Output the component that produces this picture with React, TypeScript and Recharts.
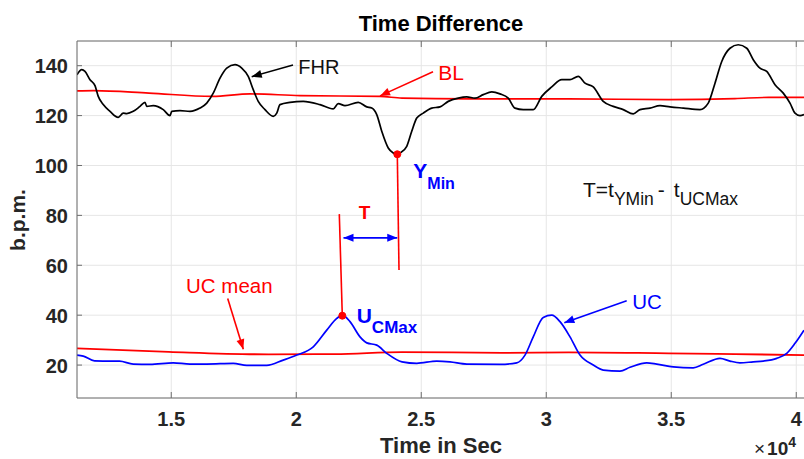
import React from 'react'
import {
  LineChart, Line, XAxis, YAxis, CartesianGrid,
  ReferenceLine, ReferenceDot,
} from 'recharts'

// FHR trace (time in sec, b.p.m.)
const fhrT = [11230, 11420, 11550, 11750, 11950, 12080, 12280, 12550, 12880, 13080, 13220, 13480, 13750, 13950, 14020, 14280, 14680, 14950, 15020, 15350, 15750, 16150, 16420, 16680, 16950, 17220, 17550, 17820, 18080, 18280, 18480, 18750, 19080, 19220, 19350, 19750, 20280, 20950, 21480, 21680, 21950, 22480, 22820, 23020, 23220, 23420, 23680, 23880, 24042, 24150, 24420, 24620, 24820, 25080, 25420, 25750, 26080, 26480, 26820, 27150, 27480, 27820, 28150, 28480, 28750, 29080, 29480, 29820, 30220, 30620, 30950, 31280, 31550, 31880, 32280, 32680, 33080, 33480, 33750, 34150, 34550, 34950, 35480, 36150, 36480, 36750, 37020, 37350, 37680, 38020, 38280, 38550, 38820, 39150, 39480, 39750, 39950, 40150, 40310]
const fhrV = [136.4, 138.4, 137.7, 134.4, 132, 127.7, 124.4, 121.7, 119.3, 121, 120.8, 121.7, 123.7, 125.3, 123.7, 124, 122.4, 120, 121.7, 122, 121.7, 123, 125, 129, 135, 139, 140.4, 139, 135.7, 130.4, 125.7, 122.4, 119.7, 121, 124.4, 125.3, 125.7, 124.4, 122.7, 124.8, 124, 125.3, 123.5, 123, 120.4, 113.7, 107, 105, 104.5, 105, 107.7, 113.7, 119, 121, 123, 123.5, 125.7, 127, 127.5, 127, 128.4, 129.5, 128.7, 127, 123, 122.4, 122.4, 127.7, 131.5, 134.4, 134.4, 135.7, 133, 131.5, 125.7, 123.7, 122.4, 120.7, 122.4, 123, 124, 123.5, 123, 122.4, 125, 133, 141.7, 147, 148.4, 147, 142.4, 139, 137.7, 132.4, 129, 125, 121, 120, 120.4]

// baseline (BL)
const blT = [11230, 11900, 14110, 16650, 18150, 20150, 23350, 24230, 26900, 30900, 34900, 37550, 38900, 40310]
const blV = [129.9, 130, 129, 127.7, 128.7, 128, 127.7, 127, 126.7, 126.7, 126.4, 126.8, 127.3, 127.3]

// uterine contractions (UC)
const ucT = [11230, 11480, 11930, 12600, 12930, 13480, 14150, 15080, 15750, 16420, 17480, 18020, 18820, 19480, 20020, 20680, 21220, 21620, 21842, 22150, 22550, 22820, 23220, 23620, 24230, 24820, 25620, 26150, 26820, 28150, 28820, 29150, 29480, 29880, 30220, 30550, 30950, 31350, 31880, 32280, 32950, 33350, 34020, 34420, 35080, 35880, 36280, 36950, 37350, 37750, 38280, 38680, 39220, 39620, 39950, 40310]
const ucV = [24, 23.6, 21.7, 21.6, 21.6, 20.4, 20.3, 20.9, 20.4, 20.4, 20.7, 19.9, 19.9, 22, 24, 27.3, 34, 38.7, 40, 37.4, 31.3, 28.9, 28, 24.7, 21.3, 20.7, 21.6, 21.3, 20.4, 20.3, 20.9, 24, 31.3, 39.1, 40, 37.4, 31.3, 24, 20, 18, 17.6, 19.1, 20.9, 20.4, 19.3, 18.9, 20.3, 22.7, 21.6, 20.9, 21.3, 21.6, 22.7, 24.7, 28.7, 34]

// UC mean
const meanT = [11230, 14900, 18900, 21550, 24230, 28230, 30900, 34900, 37550, 40310]
const meanV = [26.7, 25.3, 24.3, 24.4, 25.2, 24.9, 25.1, 24.7, 24.4, 24]

const xTicks = [15000, 20000, 25000, 30000, 35000, 40000]
const yTicks = [20, 40, 60, 80, 100, 120, 140]

// event points
const ucMax = { t: 21842, v: 39.8 }
const yMin = { t: 24042, v: 104.5 }

const pairs = (t: number[], v: number[]) => t.map((x, i) => ({ t: x, v: v[i] }))
const fhrData = pairs(fhrT, fhrV)
const blData = pairs(blT, blV)
const ucData = pairs(ucT, ucV)
const meanData = pairs(meanT, meanV)

const RED = '#ff0000'
const BLUE = '#0000ff'
const AXIS = '#6e6e6e'
const GRID = '#e6e6e6'
const TXT = '#262626'
const FONT = '"Liberation Sans", Arial, Helvetica, sans-serif'

function head(x1: number, y1: number, x2: number, y2: number, len = 10, w = 4) {
  const a = Math.atan2(y2 - y1, x2 - x1)
  const bx = x2 - len * Math.cos(a)
  const by = y2 - len * Math.sin(a)
  const px = -Math.sin(a) * w
  const py = Math.cos(a) * w
  return `${x2},${y2} ${bx + px},${by + py} ${bx - px},${by - py}`
}

const arrow = (color: string, both = false) => (p: any) => {
  const { x1, y1, x2, y2 } = p
  return (
    <g>
      <line x1={x1} y1={y1} x2={x2} y2={y2} stroke={color} strokeWidth={1.6} />
      <polygon points={head(x1, y1, x2, y2)} fill={color} />
      {both && <polygon points={head(x2, y2, x1, y1)} fill={color} />}
    </g>
  )
}

const plain = (color: string) => (p: any) => (
  <line x1={p.x1} y1={p.y1} x2={p.x2} y2={p.y2} stroke={color} strokeWidth={1.6} />
)

const label = (txt: string, color: string, size: number, weight = 400, anchor = 'start') => (p: any) => (
  <text x={p.cx} y={p.cy} fill={color} fontSize={size} fontWeight={weight} fontFamily={FONT} textAnchor={anchor}>{txt}</text>
)

const XTick = (p: any) => (
  <g>
    <line x1={p.x} y1={p.y} x2={p.x} y2={p.y - 6} stroke={AXIS} />
    <text x={p.x} y={p.y + 28} textAnchor="middle" fill={TXT} fontSize={20} fontWeight={700} fontFamily={FONT}>
      {p.payload.value / 10000}
    </text>
  </g>
)

const TopTick = (p: any) => (
  <line x1={p.x} y1={p.y} x2={p.x} y2={p.y + 6} stroke={AXIS} />
)

const YTick = (p: any) => (
  <g>
    <line x1={p.x} y1={p.y} x2={p.x + 5} y2={p.y} stroke={AXIS} />
    <text x={p.x - 9} y={p.y + 7.5} textAnchor="end" fill={TXT} fontSize={20} fontWeight={700} fontFamily={FONT}>
      {p.payload.value}
    </text>
  </g>
)

export default function App() {
  return (
    <div style={{ position: 'absolute', left: 0, top: 0, width: 804, height: 459, overflow: 'hidden', background: '#fff' }}>
      <LineChart width={830} height={459} margin={{ top: 40, right: 24, left: 76, bottom: 60 }}>
        <CartesianGrid stroke={GRID} />
        <XAxis
          dataKey="t" type="number" domain={[11230, 40390]} ticks={xTicks}
          allowDataOverflow height={1} stroke={AXIS}
          tickLine={false} tickSize={0} tickMargin={0} tick={<XTick />}
        />
        <XAxis
          xAxisId="top" orientation="top" dataKey="t" type="number" domain={[11230, 40390]} ticks={xTicks}
          allowDataOverflow height={1} stroke={AXIS}
          tickLine={false} tickSize={0} tickMargin={0} tick={<TopTick />}
        />
        <YAxis
          type="number" domain={[6.8, 149.9]} ticks={yTicks} allowDataOverflow width={1} stroke={AXIS}
          tickLine={false} tickSize={0} tickMargin={0} tick={<YTick />}
        />

        <Line data={blData} dataKey="v" type="monotone" stroke={RED} strokeWidth={1.6} dot={false} isAnimationActive={false} />
        <Line data={meanData} dataKey="v" type="monotone" stroke={RED} strokeWidth={1.8} dot={false} isAnimationActive={false} />
        <Line data={fhrData} dataKey="v" type="monotone" stroke="#000" strokeWidth={1.7} dot={false} isAnimationActive={false} />
        <Line data={ucData} dataKey="v" type="monotone" stroke={BLUE} strokeWidth={1.7} dot={false} isAnimationActive={false} />

        {/* T = tYMin - tUCMax markers */}
        <ReferenceLine segment={[{ x: 21722, y: 80.5 }, { x: ucMax.t, y: ucMax.v }]} shape={plain(RED)} ifOverflow="visible" />
        <ReferenceLine segment={[{ x: yMin.t, y: yMin.v }, { x: 24110, y: 58.1 }]} shape={plain(RED)} ifOverflow="visible" />
        <ReferenceLine segment={[{ x: 21890, y: 71 }, { x: 24040, y: 71 }]} shape={arrow(BLUE, true)} ifOverflow="visible" />
        <ReferenceDot x={ucMax.t} y={ucMax.v} r={3.5} fill={RED} stroke={RED} ifOverflow="visible" />
        <ReferenceDot x={yMin.t} y={yMin.v} r={3.5} fill={RED} stroke={RED} ifOverflow="visible" />

        {/* pointer arrows */}
        <ReferenceLine segment={[{ x: 19870, y: 140.3 }, { x: 18218, y: 135.6 }]} shape={arrow('#000')} ifOverflow="visible" />
        <ReferenceLine segment={[{ x: 25470, y: 137.6 }, { x: 23350, y: 127.9 }]} shape={arrow(RED)} ifOverflow="visible" />
        <ReferenceLine segment={[{ x: 17258, y: 46.7 }, { x: 17882, y: 26.3 }]} shape={arrow(RED)} ifOverflow="visible" />
        <ReferenceLine segment={[{ x: 33218, y: 45.8 }, { x: 30722, y: 37 }]} shape={arrow(BLUE)} ifOverflow="visible" />

        {/* labels */}
        <ReferenceDot x={20082} y={136.6} r={0} ifOverflow="visible" shape={label('FHR', '#111', 20)} />
        <ReferenceDot x={25682} y={134.3} r={0} ifOverflow="visible" shape={label('BL', RED, 21)} />
        <ReferenceDot x={15590} y={48.7} r={0} ifOverflow="visible" shape={label('UC mean', RED, 20.5)} />
        <ReferenceDot x={33442} y={42.5} r={0} ifOverflow="visible" shape={label('UC', BLUE, 20.5)} />
        <ReferenceDot x={22730} y={78.4} r={0} ifOverflow="visible" shape={label('T', RED, 19, 700, 'middle')} />
        <ReferenceDot
          x={24682} y={94.9} r={0} ifOverflow="visible"
          shape={(p: any) => (
            <text x={p.cx} y={p.cy} fill={BLUE} fontWeight={700} fontFamily={FONT} fontSize={21}>
              Y<tspan fontSize={16} dy={11}>Min</tspan>
            </text>
          )}
        />
        <ReferenceDot
          x={22418} y={37} r={0} ifOverflow="visible"
          shape={(p: any) => (
            <text x={p.cx} y={p.cy} fill={BLUE} fontWeight={700} fontFamily={FONT} fontSize={21}>
              U<tspan fontSize={17} dy={10}>CMax</tspan>
            </text>
          )}
        />
        <ReferenceDot
          x={31470} y={87.5} r={0} ifOverflow="visible"
          shape={(p: any) => (
            <text x={p.cx} y={p.cy} fill="#111" fontFamily={FONT} fontSize={21}>
              T=t<tspan fontSize={17.5} dy={8}>YMin</tspan>
              <tspan dy={-8} dx={4}>-</tspan>
              <tspan dx={9}>t</tspan>
              <tspan fontSize={17.5} dy={8}>UCMax</tspan>
            </text>
          )}
        />
      </LineChart>

      <svg width={804} height={459} style={{ position: 'absolute', left: 0, top: 0, pointerEvents: 'none' }}>
        <text x={441} y={31} textAnchor="middle" fontSize={22} fontWeight={700} fill="#000" fontFamily={FONT}>
          Time Difference
        </text>
        <text x={441} y={453} textAnchor="middle" fontSize={22} fontWeight={700} fill={TXT} fontFamily={FONT}>
          Time in Sec
        </text>
        <text transform="translate(25,220) rotate(-90)" textAnchor="middle" fontSize={21} fontWeight={700} fill={TXT} fontFamily={FONT}>
          b.p.m.
        </text>
        <text x={754} y={455} fill={TXT} fontFamily={FONT} fontSize={19}>
          ×<tspan fontWeight={700} dx={2}>10</tspan>
          <tspan fontWeight={700} fontSize={14} dy={-8}>4</tspan>
        </text>
      </svg>
    </div>
  )
}
